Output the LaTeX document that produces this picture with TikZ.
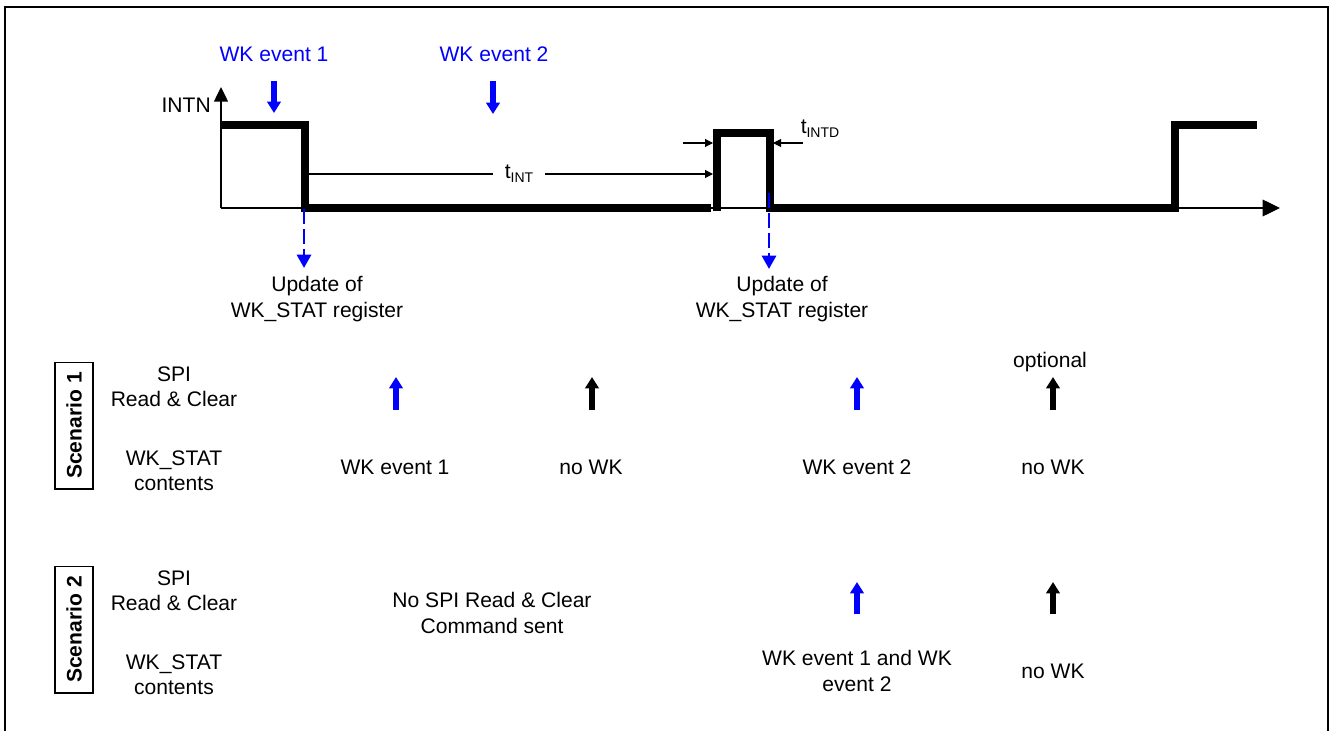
\documentclass[tikz,border=0pt]{standalone}
\usepackage{fontspec}
\setmainfont{Liberation Sans}
\usepackage{tkz-euclide}
\usetikzlibrary{arrows.meta,calc}
\definecolor{WkClr}{rgb}{0,0,1}
\definecolor{SigClr}{rgb}{0,0,0}
\newcommand{\tsub}[1]{t\raisebox{-0.35ex}{\fontsize{10.5}{12}\selectfont #1}}

\begin{document}
\begin{tikzpicture}[x=0.75pt,y=-0.75pt,font=\fontsize{15.8}{19}\selectfont,
  sig/.style={line width=5.5pt,color=SigClr,line join=miter,line cap=butt},
  axisline/.style={line width=1pt,-{Triangle[length=11pt,width=10.5pt]}},
  dimline/.style={line width=0.8pt},
  dimarrow/.style={line width=0.8pt,-{Triangle[length=6pt,width=6pt]}},
  evtarrow/.style={color=WkClr,line width=4.5pt,-{Triangle[length=8.5pt,width=10pt]}},
  updarrow/.style={color=WkClr,line width=2.2pt,dash pattern=on 11pt off 4pt,-{Triangle[length=10pt,width=10.5pt]}},
  readarrow/.style={line width=4.5pt,-{Triangle[length=8.5pt,width=10pt]}},
  txt/.style={align=center,inner sep=0pt},
  scbox/.style={draw,line width=1pt,rotate=90,font=\fontsize{15.8}{19}\selectfont\bfseries,minimum width=95pt,minimum height=28.5pt,inner sep=0pt}]
\useasboundingbox (0,0) rectangle (1331,731);

% frame
\tkzDefPoints{5/731/F0,5/7/F1,1328/7/F2,1328/731/F3}
\draw[line width=1.2pt] (F0) -- (F1) -- (F2) -- (F3);

% axes
\tkzDefPoints{221/208/O,221/87/Y,1280/208/X}
\draw[axisline] (O) -- (Y);
\draw[axisline,-{Triangle[length=13pt,width=12.5pt]}] (O) -- (X);
\node[anchor=east,inner sep=0pt] (intn) at (211,105) {INTN};

% INTN signal
\tkzDefPoints{221/125/S0,305/125/S1,305/208/S2,711/208/S3,
  717/211/P0,717/133/P1,770/133/P2,770/208/P3,
  1175/208/S4,1175/125/S5,1257/125/S6}
\draw[sig] (S0) -- (S1) -- (S2) -- (S3);
\draw[sig] (P0) -- (P1) -- (P2) -- (P3) -- (S4) -- (S5) -- (S6);

% wake events
\node[txt,text=WkClr] (wk1) at (274,54) {WK event 1};
\node[txt,text=WkClr] (wk2) at (494,54) {WK event 2};
\tkzDefPoints{274/81/E0,274/113/E1,493/81/E2,493/114/E3}
\draw[evtarrow] (E0) -- (E1);
\draw[evtarrow] (E2) -- (E3);

% timings
\node[inner xsep=9pt,inner ysep=0pt] (tint) at (519,174) {\tsub{INT}};
\tkzDefPoints{308/174/T0,713/174/T1,683/143/D0,713/143/D1,803/143/D2,773/143/D3}
\draw[dimline] (T0) -- (tint.west);
\draw[dimarrow] (tint.east) -- (T1);
\draw[dimarrow] (D0) -- (D1);
\draw[dimarrow] (D2) -- (D3);
\node[inner sep=0pt] (tintd) at (820,129) {\tsub{INTD}};

% register updates
\tkzDefPoints{304/209/U0,304/268/U1,769/193/V0,769/269/V1}
\draw[updarrow] (U0) -- (U1);
\draw[updarrow] (V0) -- (V1);
\node[txt] (upd1) at (317,299) {Update of\\WK\_STAT register};
\node[txt] (upd2) at (782,299) {Update of\\WK\_STAT register};

% scenario 1
\node[scbox] (sc1) at (74,425.5) {Scenario 1};
\node[txt] (spi1) at (174,387) {SPI\\Read \& Clear};
\node[txt] (stat1) at (174,471) {WK\_STAT\\contents};
\tkzDefPoints{396/410/A0,396/377/A1,592/410/B0,592/377/B1,857/410/C0,857/377/C1,1053/410/D4,1053/377/D5}
\draw[readarrow,color=WkClr] (A0) -- (A1);
\draw[readarrow] (B0) -- (B1);
\draw[readarrow,color=WkClr] (C0) -- (C1);
\draw[readarrow] (D4) -- (D5);
\node[txt] (opt) at (1050,362) {optional};
\node[txt] (c11) at (395,467) {WK event 1};
\node[txt] (c12) at (591,467) {no WK};
\node[txt] (c13) at (857,467) {WK event 2};
\node[txt] (c14) at (1053,467) {no WK};

% scenario 2
\node[scbox] (sc2) at (74,629.5) {Scenario 2};
\node[txt] (spi2) at (174,591) {SPI\\Read \& Clear};
\node[txt] (stat2) at (174,675) {WK\_STAT\\contents};
\node[txt] (nospi) at (492,613) {No SPI Read \& Clear\\Command sent};
\tkzDefPoints{857/614/G0,857/582/G1,1053/614/H0,1053/582/H1}
\draw[readarrow,color=WkClr] (G0) -- (G1);
\draw[readarrow] (H0) -- (H1);
\node[txt] (c21) at (857,671) {WK event 1 and WK\\event 2};
\node[txt] (c22) at (1053,671) {no WK};
\end{tikzpicture}
\end{document}
